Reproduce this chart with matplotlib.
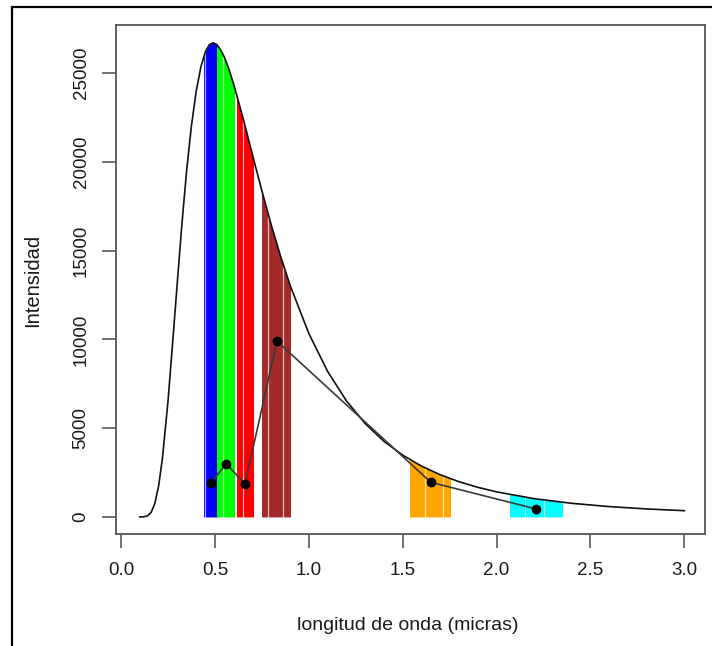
import numpy as np
import matplotlib
matplotlib.use('Agg')
import matplotlib.pyplot as plt
from matplotlib.patches import Rectangle

plt.rcParams['font.family'] = ['Liberation Sans', 'DejaVu Sans']

# curva de intensidad
wl = [0.10, 0.12, 0.14, 0.16, 0.18, 0.20, 0.22, 0.25, 0.275, 0.30, 0.325, 0.35,
      0.375, 0.40, 0.425, 0.45, 0.47, 0.49, 0.51, 0.53, 0.55, 0.575, 0.60, 0.65,
      0.70, 0.75, 0.80, 0.85, 0.90, 1.0, 1.1, 1.2, 1.3, 1.4, 1.5, 1.6, 1.7, 1.8,
      1.9, 2.0, 2.2, 2.4, 2.6, 2.8, 3.0]
inten = [0, 7, 57, 254, 765, 1747, 3277, 6518, 9861, 13264, 16610, 19596,
         22040, 23963, 25340, 26220, 26583, 26700, 26596, 26310, 25890, 25195, 24355, 22445,
         20380, 18362, 16430, 14660, 13050, 10330, 8197, 6540, 5260, 4258, 3480, 2863, 2375, 1983,
         1669, 1412, 1030, 768, 583, 450, 353]

# bandas de color
band_col = ['#0000FF', '#00FF00', '#FF0000', '#A52A2A', '#FFA500', '#00FFFF']
band_lo = [0.44, 0.51, 0.62, 0.75, 1.54, 2.07]
band_hi = [0.51, 0.60, 0.70, 0.90, 1.75, 2.35]
band_seams = [[0.448], [0.545], [0.65], [0.78, 0.86], [1.62, 1.715], [2.15, 2.25]]

# puntos medidos
pt_x = [0.48, 0.56, 0.66, 0.83, 1.65, 2.21]
pt_y = [1930, 3000, 1850, 9900, 1950, 450]

fig = plt.figure(figsize=(7.12, 6.46), dpi=100)
ax = fig.add_axes([116/712, 1-534/646, (705-116)/712, (534-25)/646])

for col, lo, hi, seams in zip(band_col, band_lo, band_hi, band_seams):
    poly = ax.fill_between(wl, 0, inten, color=col, lw=0)
    clip = Rectangle((lo, -500), hi - lo, 30000, transform=ax.transData)
    poly.set_clip_path(clip)
    for s in seams:
        ln = ax.axvline(s, color='white', lw=0.9, alpha=0.7)
        ln.set_clip_path(clip)

ax.plot(wl, inten, color='#111111', lw=1.2)
ax.plot(pt_x, pt_y, color='#3a3a3a', lw=1.2, marker='o', ms=6,
        mfc='black', mec='black')

ax.set_xlim(-0.027, 3.11)
ax.set_ylim(-960, 27700)
ax.set_xticks([0.0, 0.5, 1.0, 1.5, 2.0, 2.5, 3.0])
ax.set_xticklabels(['0.0', '0.5', '1.0', '1.5', '2.0', '2.5', '3.0'])
ax.set_yticks([0, 5000, 10000, 15000, 20000, 25000])

for sp in ax.spines.values():
    sp.set_color('#555555')
    sp.set_linewidth(1.3)
ax.tick_params(direction='out', length=10, width=1.3, color='#666666',
               labelsize=13.5, labelcolor='#1a1a1a')
ax.tick_params(axis='x', pad=10)
ax.tick_params(axis='y', pad=9, labelrotation=90)
for lab in ax.get_yticklabels():
    lab.set_va('center')

fig.text(408/712, 1-626/646, 'longitud de onda (micras)', ha='center', va='center',
         fontsize=14, color='#1a1a1a')
fig.text(33/712, 1-280/646, 'Intensidad', ha='center', va='center',
         rotation=90, fontsize=14.5, color='#1a1a1a')

fig.add_artist(Rectangle((12/712, -0.1), 1.2, 1-7/646+0.1, transform=fig.transFigure,
                         fill=False, lw=1.6, ec='black'))

fig.savefig('out.png', dpi=100)
